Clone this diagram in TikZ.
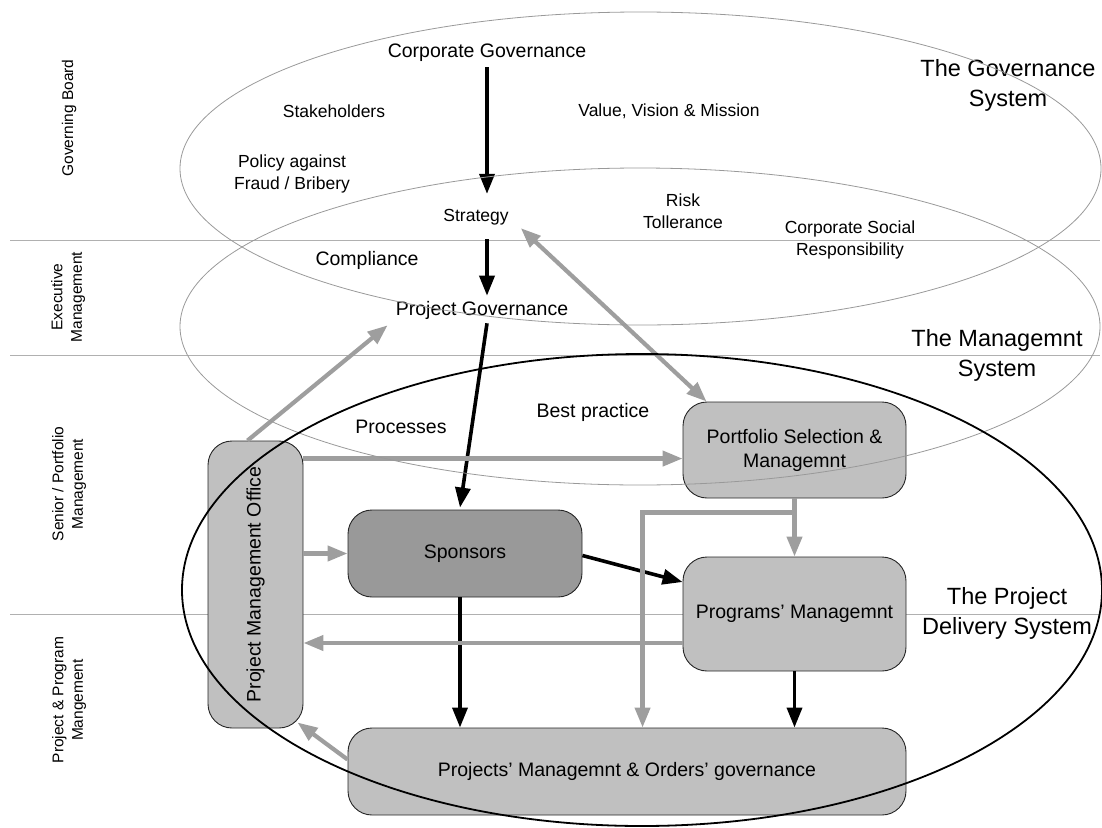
\documentclass[tikz,border=0pt]{standalone}
\usepackage{fontspec}
\setmainfont{Liberation Sans}
\usetikzlibrary{arrows.meta,calc}

\definecolor{boxgray}{HTML}{C0C0C0}
\definecolor{darkbox}{HTML}{999999}
\definecolor{linkgray}{HTML}{9E9E9E}
\definecolor{rulegray}{HTML}{B0B0B0}
\definecolor{ringgray}{HTML}{999999}

\begin{document}
\begin{tikzpicture}[x=1pt,y=-1pt,
  txt/.style={inner sep=0pt, align=center, font=\fontsize{19.5}{24}\selectfont},
  small/.style={inner sep=0pt, align=center, font=\fontsize{17.5}{22}\selectfont},
  big/.style={inner sep=0pt, align=center, font=\fontsize{23.5}{30}\selectfont},
  side/.style={inner sep=0pt, align=center, rotate=90, font=\fontsize{15.5}{19.5}\selectfont},
  box/.style={draw=black!85, line width=0.9pt, fill=boxgray, rounded corners=24pt,
              inner sep=0pt, align=center, font=\fontsize{19.5}{24}\selectfont},
  rule/.style={draw=rulegray, line width=0.9pt},
  ring/.style={draw=ringgray, line width=0.8pt},
  blk/.style={draw=black, line width=3.6pt, -{Triangle[length=20pt,width=15pt]}},
  gry/.style={draw=linkgray, line width=4.2pt, -{Triangle[length=20pt,width=15pt]}},
]
\useasboundingbox (0,0) rectangle (1102,827);

% management layers
\draw[rule] (10,240) -- (1100,240);
\draw[rule] (10,355) -- (1100,355);
\draw[rule] (10,614) -- (1100,614);

\node[side] (lgov) at (69,118) {Governing Board};
\node[side] (lexe) at (68,297) {Executive\\Management};
\node[side] (lsen) at (69,484) {Senior / Portfolio\\Management};
\node[side] (lpro) at (69,700) {Project \& Program\\Mangement};

% delivery boxes
\node[box, minimum width=95pt, minimum height=287pt] (pmo) at (255.5,584.5) {};
\node[txt, rotate=90] (pmotxt) at (pmo.center) {Project Management Office};
\node[box, fill=darkbox, minimum width=234pt, minimum height=87pt] (spon) at (465,553.5) {Sponsors};
\node[box, minimum width=558pt, minimum height=87pt] (proj) at (627,771.5) {Projects’ Managemnt \& Orders’ governance};
\node[box, minimum width=223pt, minimum height=96pt] (port) at (794.5,450) {Portfolio Selection \&\\Managemnt};
\node[box, minimum width=223pt, minimum height=114pt] (prog) at (794.5,614) {Programs’ Managemnt};

% governance texts
\node[txt] (cg) at (487,53) {Corporate Governance};
\node[small] (stake) at (334,111) {Stakeholders};
\node[small] (vvm) at (669,111) {Value, Vision \& Mission};
\node[small] (policy) at (292,174) {Policy against\\Fraud / Bribery};
\node[small] (strat) at (476,217) {Strategy};
\node[small] (risk) at (683,211) {Risk\\Tollerance};
\node[small] (csr) at (850,240) {Corporate Social\\Responsibility};
\node[txt] (comp) at (367,260) {Compliance};
\node[txt] (pg) at (482,310) {Project Governance};
\node[txt] (procs) at (401,427) {Processes};
\node[txt] (best) at (593,412) {Best practice};
\node[big] (tgs) at (1008,85) {The Governance\\System};
\node[big] (tms) at (997,355) {The Managemnt\\System};
\node[big] (tpds) at (1007,613) {The Project\\Delivery System};

% black flows
\draw[blk] ($(cg.south)+(0,5)$) -- ($(cg.south |- strat.north)+(0,-15)$);
\draw[blk] ($(strat.south -| cg.south)+(0,14)$) -- ($(pg.north -| cg.south)+(0,-5)$);
\draw[blk] ($(pg.south -| cg.south)+(0,4)$) -- ($(spon.north)+(-5,-2)$);
\draw[blk] ($(spon.east)+(0,2)$) -- ($(prog.west)+(0,-32)$);
\coordinate (sponS) at ($(spon.south)+(-5,0)$);
\draw[blk] (sponS) -- (sponS |- proj.north);
\draw[blk] (prog.south) -- (prog.south |- proj.north);

% grey flows
\draw[gry] ($(pmo.north)+(-8,0)$) -- ($(pg.south west)+(-8,6)$);
\draw[gry, {Triangle[length=20pt,width=15pt]}-{Triangle[length=20pt,width=15pt]}]
  ($(port.north west)+(24,0)$) -- ($(strat.south east)+(12,3)$);
\coordinate (pmoA) at ($(pmo.north east)+(0,18)$);
\draw[gry] (pmoA) -- (pmoA -| port.west);
\draw[gry] (pmo.east |- spon.west) -- (spon.west);
\coordinate (progB) at ($(prog.west)+(0,29)$);
\draw[gry] (progB) -- (progB -| pmo.east);
\draw[gry] ($(proj.west)+(0,-12)$) -- ($(pmo.south east)+(-6,-6)$);
\draw[gry] (port.south) -- (prog.north);
\coordinate (br) at ($(port.south)+(0,14)$);
\coordinate (brEnd) at ($(proj.north west)+(295,0)$);
\draw[gry, line join=miter] (br) -| (brEnd);

% system rings
\draw[ring] (640.5,168.5) ellipse [x radius=460.5, y radius=156.5];
\draw[ring] (640,326.5) ellipse [x radius=460, y radius=158.5];
\draw[black, line width=1.8pt] (642,590) ellipse [x radius=460, y radius=236];
\end{tikzpicture}
\end{document}
